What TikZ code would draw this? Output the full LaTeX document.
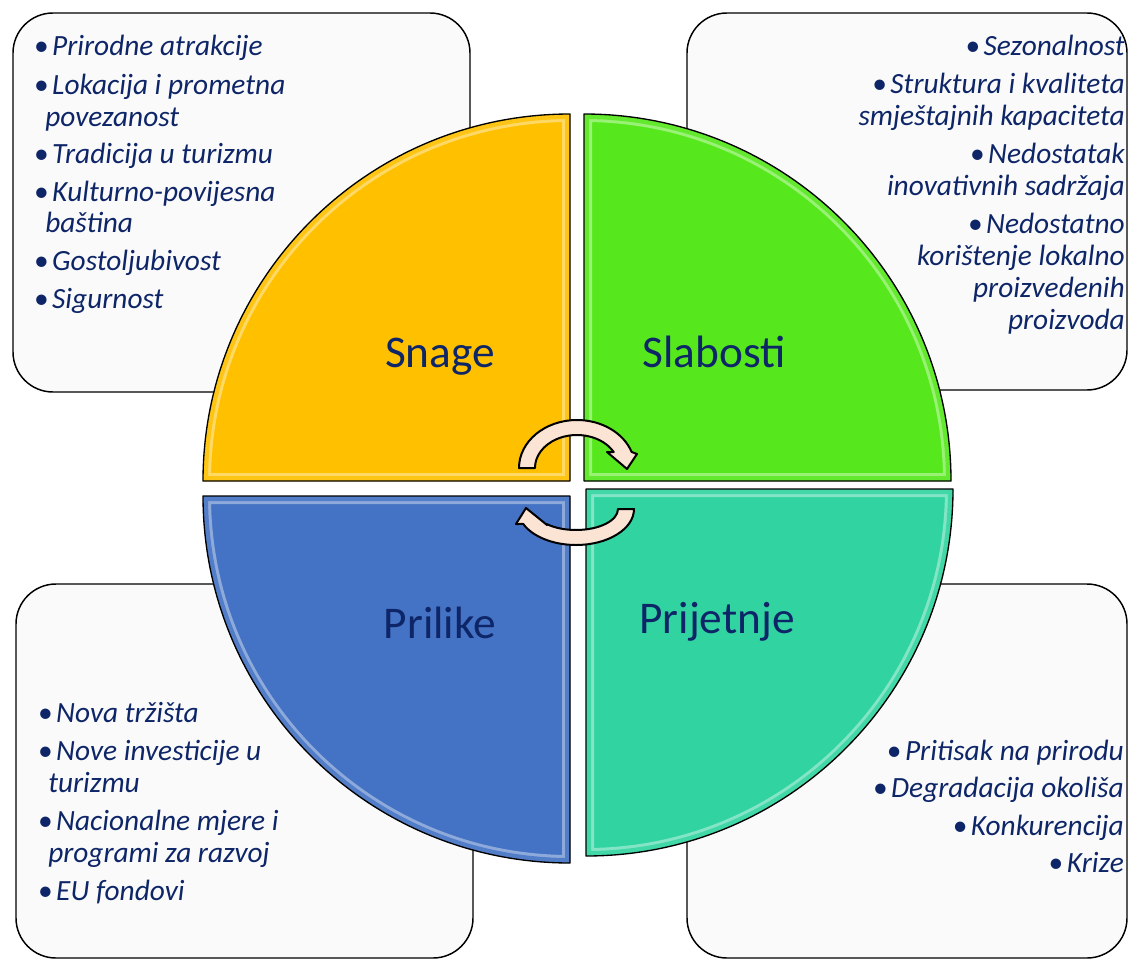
\documentclass[tikz,border=0pt]{standalone}
\usepackage{fontspec}
\setmainfont{Carlito}
\definecolor{navy}{RGB}{14,38,104}
\definecolor{qyellow}{RGB}{255,192,0}
\definecolor{qgreen}{RGB}{86,232,28}
\definecolor{qblue}{RGB}{68,114,196}
\definecolor{qteal}{RGB}{49,212,160}
\definecolor{peach}{RGB}{252,228,212}
\definecolor{boxfill}{RGB}{250,250,250}
\newcommand{\bul}{\makebox[11.25pt][l]{\hspace{-2.5pt}\textbullet}}
\newcommand{\drawquadrant}[2]{%
  \fill[#1] #2;
  \begin{scope}
    \clip #2;
    \draw[white, opacity=0.4, line width=12pt] #2;
    \draw[#1, opacity=0.8, line width=7.5pt] #2;
  \end{scope}
  \draw[black, line width=1pt, line join=round] #2;}
\begin{document}
\begin{tikzpicture}[x=0.75pt,y=-0.75pt,
  infobox/.style={draw=black, line width=1.1pt, fill=boxfill, rounded corners=30pt},
  itemtext/.style={text=navy, font=\fontsize{22pt}{24pt}\selectfont\itshape, inner sep=0pt},
  quadlabel/.style={text=navy, font=\fontsize{34pt}{40pt}\selectfont, inner sep=0pt, anchor=base},
  arrowshape/.style={fill=peach, draw=black, line width=1.5pt, line join=round}]
\useasboundingbox (0,0) rectangle (1128,960);

% corner boxes
\draw[infobox] (13,13) rectangle (470,392);
\draw[infobox] (687,13) rectangle (1127,390);
\draw[infobox] (16,584) rectangle (473,958);
\draw[infobox] (687,584) rectangle (1127,958);

% quadrants
\drawquadrant{qyellow}{(570,481) -- (203,481) arc[start angle=180,end angle=270,radius=367] -- cycle}
\drawquadrant{qgreen}{(584,481) -- (584,114) arc[start angle=270,end angle=360,radius=367] -- cycle}
\drawquadrant{qblue}{(570,496) -- (203,496) arc[start angle=180,end angle=90,radius=367] -- cycle}
\drawquadrant{qteal}{(586,489) -- (953,489) arc[start angle=0,end angle=90,radius=367] -- cycle}

% quadrant labels
\node[quadlabel] (snage) at (440,367) {Snage};
\node[quadlabel] (slabosti) at (714,367) {Slabosti};
\node[quadlabel] (prilike) at (440,638) {Prilike};
\node[quadlabel] (prijetnje) at (717,633) {Prijetnje};

% circular arrows
\draw[arrowshape] (519,468) arc[start angle=180,end angle=340.5,x radius=58,y radius=48]
  -- (637,454) -- (627,469) -- (607,452) -- (613.7,452)
  arc[start angle=331,end angle=180,x radius=42,y radius=33] -- cycle;
\draw[arrowshape] (634,509) arc[start angle=0,end angle=155.4,x radius=58,y radius=36]
  -- (516,524) -- (526,508) -- (547,525) -- (546.6,524)
  arc[start angle=134.4,end angle=0,x radius=42,y radius=21] -- cycle;

% top-left items
\foreach \x/\y/\t [count=\i] in {
  37/55/{\bul Prirodne atrakcije},
  37/94/{\bul Lokacija i prometna},
  45/126/{povezanost},
  37/163/{\bul Tradicija u turizmu},
  37/201/{\bul Kulturno-povijesna},
  45/232/{baština},
  37/270/{\bul Gostoljubivost},
  37/308/{\bul Sigurnost}}
  \node[itemtext, anchor=base west, name=tl\i] at (\x,\y) {\t};

% top-right items
\foreach \y/\t [count=\i] in {
  55/{\bul Sezonalnost},
  93/{\bul Struktura i kvaliteta},
  125/{smještajnih kapaciteta},
  163/{\bul Nedostatak},
  195/{inovativnih sadržaja},
  233/{\bul Nedostatno},
  265/{korištenje lokalno},
  297/{proizvedenih},
  329/{proizvoda}}
  \node[itemtext, anchor=base east, name=tr\i] at (1125,\y) {\t};

% bottom-left items
\foreach \x/\y/\t [count=\i] in {
  41/722/{\bul Nova tržišta},
  41/760/{\bul Nove investicije u},
  48/792/{turizmu},
  41/830/{\bul Nacionalne mjere i},
  48/862/{programi za razvoj},
  41/900/{\bul EU fondovi}}
  \node[itemtext, anchor=base west, name=bl\i] at (\x,\y) {\t};

% bottom-right items
\foreach \y/\t [count=\i] in {
  760/{\bul Pritisak na prirodu},
  797/{\bul Degradacija okoliša},
  835/{\bul Konkurencija},
  872/{\bul Krize}}
  \node[itemtext, anchor=base east, name=br\i] at (1124,\y) {\t};
\end{tikzpicture}
\end{document}
